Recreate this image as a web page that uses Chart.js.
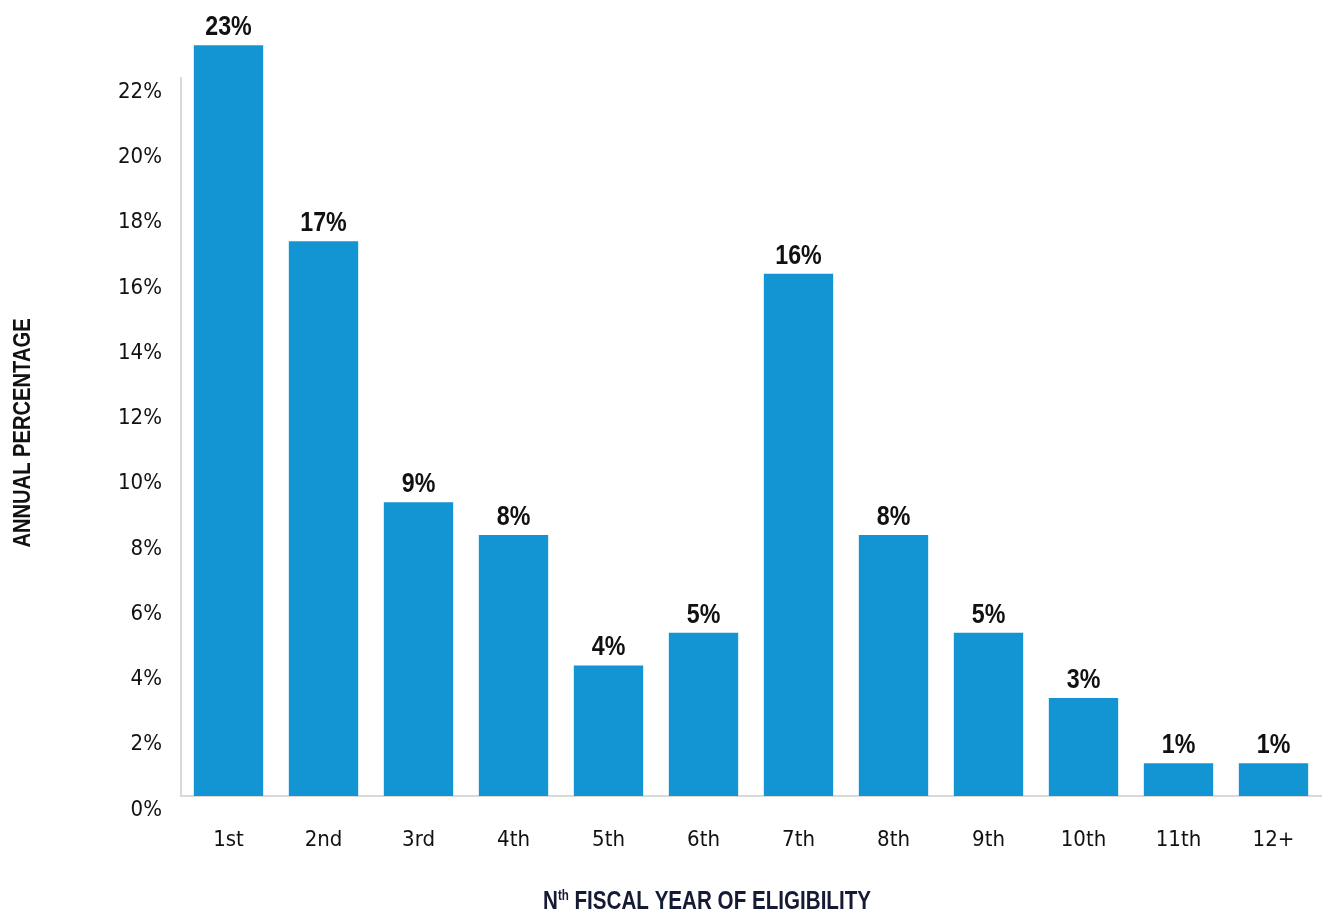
<!DOCTYPE html>
<html>
<head>
<meta charset="utf-8">
<script src="https://cdn.jsdelivr.net/npm/chart.js@4/dist/chart.umd.min.js"></script>
<style>
  html, body { margin: 0; padding: 0; background: #fff; }
  #wrap { width: 1325px; height: 912px; }
</style>
</head>
<body>
<div id="wrap"><canvas id="myChart" width="1325" height="912"></canvas></div>
<script>
const categories = ["1st", "2nd", "3rd", "4th", "5th", "6th", "7th", "8th", "9th", "10th", "11th", "12+"];
const annualPct = [23, 17, 9, 8, 4, 5, 16, 8, 5, 3, 1, 1];
const yTicks = [0, 2, 4, 6, 8, 10, 12, 14, 16, 18, 20, 22];

const TICK_FONT = "'DejaVu Sans Condensed', 'Liberation Sans', sans-serif";
const BOLD_FONT = "'Liberation Sans', Arial, sans-serif";
const barColor = "#1395d4";

// value labels above each bar (squeezed to look like a condensed face)
const barLabels = {
  id: "barLabels",
  afterDatasetsDraw(chart) {
    const ctx = chart.ctx;
    const meta = chart.getDatasetMeta(0);
    const sx = 0.86;
    ctx.save();
    ctx.font = "bold 27px " + BOLD_FONT;
    ctx.fillStyle = "#111";
    ctx.textAlign = "center";
    ctx.textBaseline = "alphabetic";
    meta.data.forEach((bar, i) => {
      ctx.save();
      ctx.translate(bar.x, bar.y - 10);
      ctx.scale(sx, 1);
      ctx.fillText(annualPct[i] + "%", 0, 0);
      ctx.restore();
    });
    ctx.restore();
  },
};

// axis titles, x one has a superscript "th"
const axisTitles = {
  id: "axisTitles",
  afterDraw(chart) {
    const ctx = chart.ctx;
    ctx.save();

    // y title
    ctx.font = "bold 24px " + BOLD_FONT;
    ctx.fillStyle = "#111";
    ctx.textAlign = "center";
    ctx.textBaseline = "middle";
    ctx.translate(23, 433);
    ctx.rotate(-Math.PI / 2);
    ctx.scale(0.84, 1);
    ctx.fillText("ANNUAL PERCENTAGE", 0, 0);
    ctx.restore();

    // x title
    ctx.save();
    const big = "bold 25px " + BOLD_FONT;
    const small = "bold 14px " + BOLD_FONT;
    const rest = " FISCAL YEAR OF ELIGIBILITY";
    ctx.fillStyle = "#161b35";
    ctx.textBaseline = "alphabetic";
    ctx.textAlign = "left";
    ctx.font = big;
    const wN = ctx.measureText("N").width;
    const wRest = ctx.measureText(rest).width;
    ctx.font = small;
    const wSup = ctx.measureText("th").width;
    const total = wN + wSup + wRest;
    const sx = 328 / total;
    ctx.translate(707 - (total * sx) / 2, 909);
    ctx.scale(sx, 1);
    let x = 0;
    ctx.font = big;
    ctx.fillText("N", x, 0);
    x += wN;
    ctx.font = small;
    ctx.fillText("th", x, -9);
    x += wSup;
    ctx.font = big;
    ctx.fillText(rest, x, 0);
    ctx.restore();
  },
};

const ctx = document.getElementById("myChart");
new Chart(ctx, {
  type: "bar",
  data: {
    labels: categories,
    datasets: [
      {
        data: annualPct,
        backgroundColor: barColor,
        borderWidth: 0,
        barPercentage: 0.73,
        categoryPercentage: 1,
        clip: false,
      },
    ],
  },
  options: {
    responsive: false,
    animation: false,
    layout: {
      padding: { top: 78, right: 4, bottom: 0, left: 0 },
    },
    plugins: {
      legend: { display: false },
      tooltip: { enabled: false },
    },
    scales: {
      x: {
        grid: { display: false },
        border: { display: true, color: "#d9d9d9", width: 2 },
        ticks: {
          color: "#111",
          font: { family: TICK_FONT, size: 22 },
          padding: 23,
        },
        afterFit: (scale) => {
          scale.height = 116;
        },
      },
      y: {
        min: 0,
        max: 22,
        afterBuildTicks: (scale) => {
          scale.ticks = yTicks.map((v) => ({ value: v }));
        },
        grid: { display: false },
        border: { display: true, color: "#d9d9d9", width: 2 },
        ticks: {
          color: "#111",
          font: { family: TICK_FONT, size: 22 },
          padding: 11,
          labelOffset: 14,
          callback: (v) => v + "%",
        },
        afterFit: (scale) => {
          scale.width = 181;
        },
      },
    },
  },
  plugins: [barLabels, axisTitles],
});
</script>
</body>
</html>
